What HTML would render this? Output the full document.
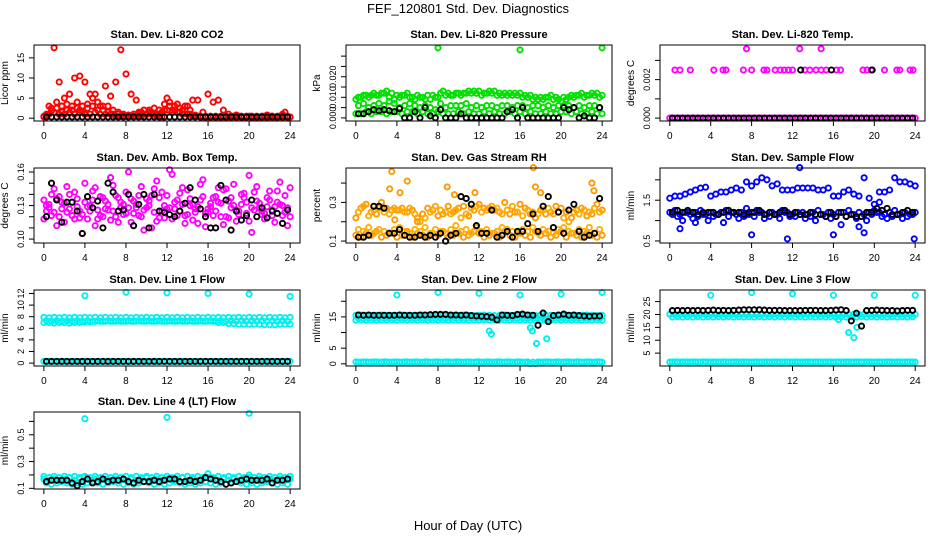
<!DOCTYPE html>
<html><head><meta charset="utf-8"><style>
html,body{margin:0;padding:0;background:#fff;}
svg{display:block;font-family:"Liberation Sans",sans-serif;}
</style></head><body>
<svg id="chart" width="936" height="540" viewBox="0 0 936 540" xmlns="http://www.w3.org/2000/svg">
<rect width="936" height="540" fill="#fff"/>
<text x="468" y="13" font-size="13" text-anchor="middle">FEF_120801  Std. Dev. Diagnostics</text>
<text x="468" y="530" font-size="13" text-anchor="middle">Hour of Day (UTC)</text>
</svg>
<script>
const hoursA=[0,0.5,1,1.5,2,2.5,3,3.5,4,4.5,5,5.5,6,6.5,7,7.5,8,8.5,9,9.5,10,10.5,11,11.5,12,12.5,13,13.5,14,14.5,15,15.5,16,16.5,17,17.5,18,18.5,19,19.5,20,20.5,21,21.5,22,22.5,23,23.5,24];
const hoursB=[0.25,0.75,1.25,1.75,2.25,2.75,3.25,3.75,4.25,4.75,5.25,5.75,6.25,6.75,7.25,7.75,8.25,8.75,9.25,9.75,10.25,10.75,11.25,11.75,12.25,12.75,13.25,13.75,14.25,14.75,15.25,15.75,16.25,16.75,17.25,17.75,18.25,18.75,19.25,19.75,20.25,20.75,21.25,21.75,22.25,22.75,23.25,23.75];
const outlierHours=[4,8,12,16,20,24];

// P1 CO2
const co2Red1=[0.3,3,17.5,9,5,6,10,10.5,9,6,6,3,8,5.5,9,17,11,6,4.5,1.5,1,1.5,0.5,0.3,5,2,3.5,2,3,4.5,4.5,1.5,6,4,4.5,2,1,0.5,0.5,0.3,0.5,0.3,0.3,0.5,0.5,0.3,0.5,1.5,0.3];
const co2Red2=[1,2.5,4,3,2,3,2.5,3,3.5,5,2,3,1.5,2,1,0.8,0.5,0.5,1,2,1.5,2.5,1,2,3,2,2.5,2,1,0.5,0.3,0.3,0.3,0.3,0.3,0.3,0.3,0.3,0.3,0.3,0.3,0.3,0.3,0.3,0.5,0.3,0.8,0.3];
const co2Red3=[0.5,1,1.5,1,1,1.5,1,2,1,1,1.5,1,1,1,0.5,0.5,0.5,0.5,0.5,0.5,1,1,1,1.5,2,1.5,1.5,1,1,0.5,0.5,0.3,0.3,0.3,0.3,0.3,0.3,0.3,0.3,0.3,0.3,0.3,0.3,0.3,0.3,0.3,0.3,0.3,0.3];
const co2Red4=[0.8,1.8,2.5,1.5,3.5,2,4,1.5,2.5,3,4,2,3,1,1.5,1,0.8,1,1.5,1,2,1,2,3.5,4,3,1.5,3,2,0.8,0.5,0.5,0.5,0.5,0.5,0.5,0.5,0.8,0.5,0.5,0.5,0.5,0.5,0.8,0.5,0.5,1,0.5];
const co2Black=[0.3,0.3,0.3,0.3,0.3,0.3,0.3,0.3,0.3,0.3,0.3,0.3,0.3,0.3,0.3,0.3,0.3,0.3,0.3,0.3,0.3,0.3,0.3,0.3,0.3,0.3,0.3,0.3,0.3,0.3,0.3,0.3,0.3,0.3,0.3,0.3,0.3,0.3,0.3,0.3,0.3,0.3,0.3,0.3,0.3,0.3,0.3,0.3];
// P2 Pressure
const presGreen1=[.009,.010,.011,.011,.011,.012,.013,.012,.011,.011,.012,.010,.011,.010,.011,.011,.010,.013,.012,.011,.012,.012,.013,.013,.013,.012,.013,.013,.012,.012,.012,.012,.012,.011,.011,.010,.010,.010,.011,.010,.008,.009,.011,.011,.012,.011,.012,.012,.011];
const presGreen2=[.006,.007,.005,.006,.007,.006,.008,.007,.005,.006,.007,.006,.005,.006,.005,.004,.007,.005,.006,.006,.006,.007,.005,.006,.005,.006,.006,.005,.006,.006,.005,.006,.006,.005,.006,.006,.005,.006,.005,.006,.006,.006,.005,.006,.005,.006,.006,.005];
const presGreen3=[.002,.002,.003,.002,.003,.003,.002,.003,.003,.002,.003,.003,.002,.003,.002,.002,.003,.002,.002,.002,.003,.002,.003,.002,.002,.003,.002,.003,.002,.002,.003,.002,.003,.002,.003,.002,.002,.003,.002,.002,.003,.003,.002,.003,.002,.002,.003,.002,.002];
const presGreen4=[.010,.011,.010,.012,.011,.012,.010,.009,.010,.011,.010,.009,.010,.009,.009,.010,.012,.011,.011,.012,.011,.012,.012,.012,.011,.012,.012,.011,.011,.011,.011,.011,.010,.010,.009,.009,.009,.010,.009,.009,.010,.010,.010,.011,.010,.011,.011,.010];
const presOutX=[8,16,24];
const presOutY=[.034,.033,.034];
const presBlack=[.002,.002,.003,.004,.0035,.004,.0035,.003,.0045,.000,.000,.003,.000,.005,.001,.000,.004,.000,.000,.000,.002,.000,.000,.000,.000,.000,.000,.000,.000,.003,.004,.000,.005,.000,.000,.000,.000,.000,.000,.000,.005,.004,.005,.000,.001,.000,.000,.005];
// P3 Temp
const tempUpX=[0.5,1,2,4.3,5.2,5.5,7.2,8,9.2,9.5,10.3,10.8,11.2,11.6,12,13.2,13.7,14.3,14.8,15.3,16.3,16.7,18.9,19.3,19.7,21,22.2,22.5,23.5,23.8];
const tempUpY=[.0025,.0025,.0025,.0025,.0025,.0025,.0025,.0025,.0025,.0025,.0025,.0025,.0025,.0025,.0025,.0025,.0025,.0025,.0025,.0025,.0025,.0025,.0025,.0025,.0025,.0025,.0025,.0025,.0025,.0025];
const tempOutX=[7.5,12.7,14.8];
const tempOutY=[.0036,.0036,.0036];
const tempZeroA=[0,0,0,0,0,0,0,0,0,0,0,0,0,0,0,0,0,0,0,0,0,0,0,0,0,0,0,0,0,0,0,0,0,0,0,0,0,0,0,0,0,0,0,0,0,0,0,0,0];
const tempBlack=[0,0,0,0,0,0,0,0,0,0,0,0,0,0,0,0,0,0,0,0,0,0,0,0,0,0,0,0,0,0,0,0,0,0,0,0,0,0,0,0,0,0,0,0,0,0,0,0];
const tempBlackUpX=[12.8,15.8,19.8];
const tempBlackUpY=[.0025,.0025,.0025];
// P4 Amb box
const ambMag1=[.135,.128,.145,.120,.132,.140,.118,.125,.150,.130,.112,.138,.127,.155,.120,.133,.142,.115,.128,.147,.136,.110,.152,.125,.139,.158,.121,.131,.144,.117,.129,.153,.124,.137,.146,.113,.134,.149,.122,.141,.157,.126,.132,.118,.143,.129,.151,.124,.146];
const ambMag2=[.125,.140,.112,.133,.147,.121,.136,.105,.129,.143,.118,.137,.126,.148,.115,.131,.160,.123,.139,.108,.134,.145,.119,.130,.162,.127,.141,.114,.136,.124,.149,.111,.132,.138,.120,.145,.128,.116,.140,.133,.106,.147,.125,.137,.121,.143,.130,.112];
const ambMag3=[.118,.131,.124,.138,.115,.127,.142,.119,.133,.125,.146,.121,.134,.117,.139,.128,.123,.136,.131,.120,.128,.139,.116,.142,.127,.118,.135,.146,.122,.131,.114,.138,.127,.121,.133,.144,.119,.130,.125,.137,.116,.142,.128,.123,.135,.115,.131,.139,.120];
const ambMag4=[.130,.121,.136,.127,.124,.133,.129,.122,.118,.135,.126,.120,.131,.125,.137,.122,.128,.134,.121,.126,.130,.124,.137,.119,.128,.133,.125,.121,.130,.127,.135,.123,.129,.125,.132,.120,.137,.126,.131,.123,.128,.134,.122,.129,.126,.133,.121,.128];
const ambBlack=[.120,.150,.135,.115,.133,.133,.125,.105,.138,.128,.134,.110,.150,.142,.125,.126,.140,.112,.131,.140,.110,.140,.125,.124,.122,.120,.125,.132,.146,.135,.127,.120,.110,.110,.148,.135,.108,.125,.117,.121,.135,.120,.128,.119,.125,.123,.114,.126];
// P5 RH
const rhOr1=[.13,.12,.14,.13,.15,.12,.13,.14,.12,.13,.15,.12,.14,.13,.12,.14,.13,.15,.12,.13,.14,.12,.13,.15,.14,.12,.13,.14,.12,.15,.13,.12,.14,.13,.12,.15,.13,.14,.12,.13,.15,.12,.14,.13,.12,.14,.13,.12,.13];
const rhOr2=[.16,.15,.17,.14,.16,.15,.14,.16,.17,.15,.14,.16,.15,.17,.14,.16,.15,.14,.16,.18,.15,.16,.14,.17,.15,.16,.14,.15,.17,.16,.15,.14,.16,.15,.17,.14,.16,.15,.14,.16,.17,.15,.14,.16,.15,.17,.14,.16];
const rhOr3=[.22,.27,.29,.25,.24,.30,.27,.26,.26,.27,.25,.26,.22,.24,.27,.26,.23,.24,.28,.25,.27,.28,.23,.26,.29,.27,.27,.26,.25,.30,.24,.25,.29,.27,.24,.22,.26,.24,.25,.28,.27,.25,.22,.26,.27,.23,.24,.29,.26];
const rhOr4=[.25,.28,.23,.26,.27,.25,.24,.27,.26,.25,.27,.24,.20,.22,.25,.28,.26,.25,.24,.26,.22,.24,.27,.28,.25,.26,.28,.27,.24,.26,.28,.25,.23,.26,.25,.24,.26,.27,.24,.25,.22,.20,.25,.24,.26,.25,.27,.25];
const rhOutX=[3.3,3.5,4.3,5,8.9,11.6,17.3,17.5,18,23,23.2,9.6,6,3.8];
const rhOutY=[.37,.46,.35,.41,.38,.35,.48,.38,.35,.40,.36,.34,.20,.21];
const rhBlack=[.12,.12,.13,.28,.28,.27,.14,.14,.16,.13,.12,.12,.13,.12,.13,.12,.14,.10,.13,.14,.33,.32,.29,.18,.14,.14,.26,.12,.13,.15,.12,.15,.15,.19,.24,.15,.28,.33,.17,.25,.14,.26,.29,.15,.12,.13,.14,.32];
// P6 Sample flow
const sfBlue1=[1.55,1.6,1.6,1.65,1.7,1.75,1.8,1.82,1.6,1.65,1.7,1.7,1.75,1.8,1.75,1.95,1.85,1.95,2.05,2.0,1.85,1.9,1.75,1.75,1.75,1.8,1.8,1.8,1.8,1.75,1.75,1.8,1.6,1.6,1.7,1.75,1.65,1.6,2.05,1.55,1.4,1.7,1.7,1.75,2.05,1.95,1.95,1.9,1.85];
const sfBlue2=[1.15,1.1,1.0,1.2,1.05,1.1,1.15,1.0,1.1,1.15,0.95,1.1,1.2,1.05,1.1,1.15,1.1,1.2,1.05,1.1,1.15,1.05,1.2,1.1,1.1,1.15,1.05,1.1,1.0,1.15,1.1,1.05,1.1,0.9,1.1,1.15,1.05,1.1,1.0,1.15,1.2,1.1,1.05,1.1,1.15,1.05,1.1,1.15];
const sfBlue3=[1.2,1.25,1.15,1.2,1.15,1.2,1.25,1.15,1.2,1.15,1.2,1.25,1.2,1.15,1.2,1.15,1.2,1.25,1.2,1.15,1.2,1.15,1.25,1.2,1.15,1.2,1.2,1.15,1.2,1.25,1.15,1.2,1.15,1.2,1.2,1.25,1.15,1.2,1.15,1.2,1.25,1.2,1.15,1.2,1.25,1.15,1.2,1.15,1.2];
const sfOutX=[8,11.5,12.7,16,19,23.9,2.5,18.5,20.5,1,7.5];
const sfOutY=[0.65,0.55,2.3,0.65,0.7,0.55,0.95,0.85,1.45,0.8,1.3];
const sfBlack=[1.2,1.25,1.2,1.25,1.2,1.15,1.2,1.2,1.2,1.15,1.2,1.25,1.2,1.2,1.15,1.2,1.2,1.25,1.15,1.2,1.15,1.2,1.25,1.15,1.2,1.15,1.15,1.2,1.15,1.15,1.1,1.2,1.1,1.2,1.1,1.15,1.1,1.1,1.2,1.2,1.3,1.25,1.3,1.15,1.15,1.2,1.25,1.2];
// P7 Line 1
const l1Cy1=[7.9,7.8,7.9,7.8,7.9,7.8,7.9,7.8,7.9,7.8,7.9,7.8,7.9,7.8,7.9,7.8,7.9,7.8,7.9,7.8,7.9,7.8,7.9,7.8,7.9,7.8,7.9,7.8,7.9,7.8,7.9,7.8,7.9,7.8,7.9,7.8,7.9,7.8,7.9,7.8,7.9,7.8,7.9,7.8,7.9,7.8,7.9,7.8,7.9];
const l1Cy2=[7.3,7.2,7.3,7.2,7.3,7.2,7.3,7.2,7.3,7.2,7.3,7.2,7.3,7.2,7.3,7.2,7.3,7.2,7.3,7.2,7.3,7.2,7.3,7.2,7.3,7.2,7.3,7.2,7.3,7.2,7.3,7.2,7.3,7.2,7.3,7.2,7.3,7.2,7.3,7.2,7.3,7.2,7.3,7.2,7.3,7.2,7.3,7.2];
const l1Cy3=[7.0,7.0,6.9,7.0,7.0,6.9,7.0,7.0,7.1,7.1,7.2,7.2,7.2,7.2,7.2,7.2,7.2,7.2,7.2,7.2,7.2,7.2,7.2,7.2,7.2,7.2,7.2,7.2,7.2,7.2,7.2,7.2,7.2,7.2,7.0,7.0,6.8,6.8,6.7,6.7,6.7,6.7,6.7,6.6,6.6,6.6,6.7,6.7,6.7];
const l1CyLow=[0.3,0.3,0.3,0.3,0.3,0.3,0.3,0.3,0.3,0.3,0.3,0.3,0.3,0.3,0.3,0.3,0.3,0.3,0.3,0.3,0.3,0.3,0.3,0.3,0.3,0.3,0.3,0.3,0.3,0.3,0.3,0.3,0.3,0.3,0.3,0.3,0.3,0.3,0.3,0.3,0.3,0.3,0.3,0.3,0.3,0.3,0.3,0.3,0.3];
const l1OutY=[11.6,12.2,12.1,12.0,11.9,11.5];
const l1Black=[0.3,0.3,0.3,0.3,0.3,0.3,0.3,0.3,0.3,0.3,0.3,0.3,0.3,0.3,0.3,0.3,0.3,0.3,0.3,0.3,0.3,0.3,0.3,0.3,0.3,0.3,0.3,0.3,0.3,0.3,0.3,0.3,0.3,0.3,0.3,0.3,0.3,0.3,0.3,0.3,0.3,0.3,0.3,0.3,0.3,0.3,0.3,0.3];
// P8 Line 2
const l2Cy1=[15.5,15.6,15.5,15.4,15.5,15.6,15.5,15.4,15.5,15.6,15.5,15.4,15.5,15.6,15.5,15.4,15.5,15.6,15.5,15.4,15.5,15.6,15.5,15.4,15.5,15.6,15.5,15.4,15.5,15.6,15.5,15.4,15.5,15.6,15.5,15.4,15.5,15.6,15.5,15.4,15.5,15.6,15.5,15.4,15.5,15.6,15.5,15.4,15.5];
const l2Cy2=[14.6,14.5,14.6,14.5,14.6,14.5,14.6,14.5,14.6,14.5,14.6,14.5,14.6,14.5,14.6,14.5,14.6,14.5,14.6,14.5,14.6,14.5,14.6,14.5,14.6,14.5,14.6,14.5,14.6,14.5,14.6,14.5,14.6,14.5,14.6,14.5,14.6,14.5,14.6,14.5,14.6,14.5,14.6,14.5,14.6,14.5,14.6,14.5];
const l2Cy3=[13.9,14.0,13.9,14.0,13.9,14.0,13.9,14.0,13.9,14.0,13.9,14.0,13.9,14.0,13.9,14.0,13.9,14.0,13.9,14.0,13.9,14.0,13.9,14.0,13.9,14.0,13.9,14.0,13.9,14.0,13.9,14.0,13.9,14.0,13.9,14.0,13.9,14.0,13.9,14.0,13.9,14.0,13.9,14.0,13.9,14.0,13.9,14.0,13.9];
const l2CyLow=[0.6,0.5,0.6,0.5,0.6,0.5,0.6,0.5,0.6,0.5,0.6,0.5,0.6,0.5,0.6,0.5,0.6,0.5,0.6,0.5,0.6,0.5,0.6,0.5,0.6,0.5,0.6,0.5,0.6,0.5,0.6,0.5,0.6,0.5,0.1,0.1,0.5,0.6,0.5,0.6,0.5,0.6,0.5,0.6,0.5,0.6,0.5,0.6,0.5];
const l2CyLowB=[0.5,0.6,0.5,0.6,0.5,0.6,0.5,0.6,0.5,0.6,0.5,0.6,0.5,0.6,0.5,0.6,0.5,0.6,0.5,0.6,0.5,0.6,0.5,0.6,0.5,0.6,0.5,0.6,0.5,0.6,0.5,0.6,0.5,0.6,0.5,0.6,0.5,0.6,0.5,0.6,0.5,0.6,0.5,0.6,0.5,0.6,0.5,0.6];
const l2OutY=[22,22.8,22.5,22,22.3,22.8];
const l2DipX=[13,13.2,17,17.2,17.6,18.6];
const l2DipY=[10.5,9.5,11.5,10.5,6.5,8];
const l2Black=[15.6,15.5,15.6,15.5,15.5,15.5,15.5,15.5,15.6,15.5,15.5,15.5,15.6,15.6,15.7,15.8,15.8,15.8,15.6,15.6,15.5,15.6,15.4,15.3,15.2,15.1,14.9,14.0,15.6,15.5,15.4,15.8,15.9,15.6,15.5,12.3,16.2,13.5,15.4,15.6,15.9,15.5,15.6,15.4,15.3,15.2,15.3,15.3];
// P9 Line 3
const l3Cy1=[20.1,20.0,20.1,20.0,20.1,20.0,20.1,20.0,20.1,20.0,20.1,20.0,20.1,20.0,20.1,20.0,20.1,20.0,20.1,20.0,20.1,20.0,20.1,20.0,20.1,20.0,20.1,20.0,20.1,20.0,20.1,20.0,20.1,20.0,20.1,20.0,20.1,20.0,20.1,20.0,20.1,20.0,20.1,20.0,20.1,20.0,20.1,20.0,20.1];
const l3Cy2=[19.0,19.1,19.0,19.1,19.0,19.1,19.0,19.1,19.0,19.1,19.0,19.1,19.0,19.1,19.0,19.1,19.0,19.1,19.0,19.1,19.0,19.1,19.0,19.1,19.0,19.1,19.0,19.1,19.0,19.1,19.0,19.1,19.0,19.1,19.0,19.1,19.0,19.1,19.0,19.1,19.0,19.1,19.0,19.1,19.0,19.1,19.0,19.1];
const l3CyLow=[1.5,1.6,1.5,1.6,1.5,1.6,1.5,1.6,1.5,1.6,1.5,1.6,1.5,1.6,1.5,1.6,1.5,1.6,1.5,1.6,1.5,1.6,1.5,1.6,1.5,1.6,1.5,1.6,1.5,1.6,1.5,1.6,1.5,1.6,1.5,1.6,1.5,1.6,1.5,1.6,1.5,1.6,1.5,1.6,1.5,1.6,1.5,1.6,1.5];
const l3CyLowB=[1.6,1.5,1.6,1.5,1.6,1.5,1.6,1.5,1.6,1.5,1.6,1.5,1.6,1.5,1.6,1.5,1.6,1.5,1.6,1.5,1.6,1.5,1.6,1.5,1.6,1.5,1.6,1.5,1.6,1.5,1.6,1.5,1.6,1.5,1.6,1.5,1.6,1.5,1.6,1.5,1.6,1.5,1.6,1.5,1.6,1.5,1.6,1.5];
const l3OutY=[27.5,28.5,28,27.5,27.5,27.5];
const l3DipX=[17.5,18,18.3,16.5];
const l3DipY=[13,11,15,18];
const l3Black=[21.5,21.6,21.5,21.6,21.5,21.6,21.5,21.6,21.7,21.5,21.6,21.5,21.6,21.7,21.8,21.8,21.8,21.8,21.7,21.6,21.6,21.6,21.5,21.5,21.5,21.5,21.6,21.6,21.6,21.5,21.5,21.6,21.7,21.8,21.5,17.5,20.5,15.5,21.5,21.6,21.7,21.6,21.5,21.5,21.4,21.5,21.6,21.6];
// P10 Line 4
const l4Cy1=[0.17,0.16,0.17,0.16,0.17,0.18,0.16,0.17,0.18,0.16,0.17,0.16,0.17,0.16,0.17,0.18,0.16,0.17,0.16,0.17,0.18,0.16,0.17,0.16,0.17,0.16,0.17,0.18,0.16,0.17,0.16,0.17,0.18,0.17,0.16,0.17,0.16,0.17,0.16,0.17,0.18,0.16,0.17,0.16,0.17,0.16,0.17,0.16,0.17];
const l4Cy2=[0.14,0.13,0.14,0.15,0.14,0.13,0.14,0.13,0.14,0.15,0.14,0.13,0.14,0.15,0.14,0.13,0.14,0.13,0.14,0.15,0.14,0.13,0.14,0.13,0.14,0.15,0.14,0.13,0.14,0.13,0.14,0.15,0.14,0.13,0.14,0.13,0.14,0.15,0.14,0.13,0.14,0.13,0.14,0.15,0.14,0.13,0.14,0.13];
const l4Cy3=[0.19,0.18,0.19,0.18,0.19,0.18,0.19,0.18,0.19,0.18,0.19,0.18,0.19,0.18,0.19,0.18,0.19,0.18,0.19,0.18,0.19,0.18,0.19,0.18,0.19,0.18,0.19,0.18,0.19,0.18,0.19,0.18,0.21,0.18,0.19,0.18,0.19,0.18,0.19,0.18,0.20,0.18,0.19,0.18,0.19,0.18,0.19,0.18,0.19];
const l4OutX=[4,12,20];
const l4OutY=[0.62,0.63,0.66];
const l4Black=[0.15,0.16,0.16,0.16,0.16,0.14,0.12,0.15,0.17,0.14,0.15,0.17,0.15,0.16,0.16,0.17,0.15,0.14,0.16,0.15,0.15,0.16,0.15,0.16,0.17,0.17,0.15,0.15,0.16,0.15,0.16,0.18,0.17,0.16,0.15,0.13,0.14,0.15,0.16,0.17,0.16,0.16,0.16,0.17,0.14,0.16,0.16,0.17];

const xTicks=[0,4,8,12,16,20,24];
const svg=document.getElementById('chart');
const NS='http://www.w3.org/2000/svg';
const cols=[[34,300],[346,612],[660,925]];
const rows=[[45,121],[168,243],[290,366],[412,489]];
const CY='#00f0f0';
const panels=[
 {name:'co2',title:'Stan. Dev. Li-820 CO2',ylab:'Licor ppm',c:0,r:0,dom:[-0.7,18.2],ticks:[0,5,10,15],labels:['0','5','10','15'],
  series:[[hoursA,co2Red1,'#ff0000'],[hoursB,co2Red2,'#ff0000'],[hoursA,co2Red3,'#ff0000'],[hoursB,co2Red4,'#ff0000'],[hoursB,co2Black,'#000']]},
 {name:'pressure',title:'Stan. Dev. Li-820 Pressure',ylab:'kPa',c:1,r:0,dom:[-0.0015,0.0354],ticks:[0,.005,.01,.015,.02,.025,.03],labels:['0.000','','0.010','','0.020','',''],
  series:[[hoursA,presGreen1,'#00e000'],[hoursB,presGreen2,'#00e000'],[hoursA,presGreen3,'#00e000'],[hoursB,presGreen4,'#00e000'],[presOutX,presOutY,'#00e000'],[hoursB,presBlack,'#000']]},
 {name:'li820-temp',title:'Stan. Dev. Li-820 Temp.',ylab:'degrees C',c:2,r:0,dom:[-0.00015,0.0038],ticks:[0,.001,.002,.003],labels:['0.000','','0.002',''],
  series:[[hoursA,tempZeroA,'#ff00ff'],[tempUpX,tempUpY,'#ff00ff'],[tempOutX,tempOutY,'#ff00ff'],[hoursB,tempBlack,'#000'],[tempBlackUpX,tempBlackUpY,'#000']]},
 {name:'amb-box-temp',title:'Stan. Dev. Amb. Box Temp.',ylab:'degrees C',c:0,r:1,dom:[0.0965,0.1636],ticks:[.10,.11,.12,.13,.14,.15,.16],labels:['0.10','','','0.13','','','0.16'],
  series:[[hoursA,ambMag1,'#ff00ff'],[hoursB,ambMag2,'#ff00ff'],[hoursA,ambMag3,'#ff00ff'],[hoursB,ambMag4,'#ff00ff'],[hoursB,ambBlack,'#000']]},
 {name:'gas-rh',title:'Stan. Dev. Gas Stream RH',ylab:'percent',c:1,r:1,dom:[0.09,0.478],ticks:[.1,.2,.3,.4],labels:['0.1','','0.3',''],
  series:[[hoursA,rhOr1,'#ff9900'],[hoursB,rhOr2,'#ffb000'],[hoursA,rhOr3,'#ff9900'],[hoursB,rhOr4,'#ffaa00'],[rhOutX,rhOutY,'#ff9900'],[hoursB,rhBlack,'#000']]},
 {name:'sample-flow',title:'Stan. Dev. Sample Flow',ylab:'ml/min',c:2,r:1,dom:[0.45,2.29],ticks:[.5,1,1.5,2],labels:['0.5','','1.5',''],
  series:[[hoursA,sfBlue1,'#0000ff'],[hoursB,sfBlue2,'#0000ff'],[hoursA,sfBlue3,'#0000ff'],[sfOutX,sfOutY,'#0000ff'],[hoursB,sfBlack,'#000']]},
 {name:'line1-flow',title:'Stan. Dev. Line 1 Flow',ylab:'ml/min',c:0,r:2,dom:[-0.5,12.6],ticks:[0,2,4,6,8,10,12],labels:['0','2','4','6','8','10','12'],
  series:[[hoursA,l1Cy1,CY],[hoursB,l1Cy2,CY],[hoursA,l1Cy3,CY],[hoursA,l1CyLow,CY],[outlierHours,l1OutY,CY],[hoursB,l1Black,'#000']]},
 {name:'line2-flow',title:'Stan. Dev. Line 2 Flow',ylab:'ml/min',c:1,r:2,dom:[-0.7,23.6],ticks:[0,5,10,15,20],labels:['0','5','','15',''],
  series:[[hoursA,l2Cy1,CY],[hoursB,l2Cy2,CY],[hoursA,l2Cy3,CY],[hoursA,l2CyLow,CY],[hoursB,l2CyLowB,CY],[outlierHours,l2OutY,CY],[l2DipX,l2DipY,CY],[hoursB,l2Black,'#000']]},
 {name:'line3-flow',title:'Stan. Dev. Line 3 Flow',ylab:'ml/min',c:2,r:2,dom:[0,29.5],ticks:[5,10,15,20,25],labels:['5','10','15','20','25'],
  series:[[hoursA,l3Cy1,CY],[hoursB,l3Cy2,CY],[hoursA,l3CyLow,CY],[hoursB,l3CyLowB,CY],[outlierHours,l3OutY,CY],[l3DipX,l3DipY,CY],[hoursB,l3Black,'#000']]},
 {name:'line4-flow',title:'Stan. Dev. Line 4 (LT) Flow',ylab:'ml/min',c:0,r:3,dom:[0.095,0.67],ticks:[.1,.2,.3,.4,.5,.6],labels:['0.1','','0.3','','0.5',''],
  series:[[hoursA,l4Cy1,CY],[hoursB,l4Cy2,CY],[hoursA,l4Cy3,CY],[l4OutX,l4OutY,CY],[hoursB,l4Black,'#000']]}
];
function mk(tag,attrs,parent){const e=document.createElementNS(NS,tag);for(const k in attrs)e.setAttribute(k,attrs[k]);parent.appendChild(e);return e;}
panels.forEach(p=>{
  const [l,r]=cols[p.c],[t,b]=rows[p.r];
  const xs=v=>l+(v+0.96)/25.92*(r-l);
  const ys=v=>b-(v-p.dom[0])/(p.dom[1]-p.dom[0])*(b-t);
  const g=mk('g',{},svg);
  
  
  const title=mk('text',{x:(l+r)/2,y:t-7,'font-size':11,'font-weight':'bold','text-anchor':'middle'},g);
  title.textContent=p.title;
  
  
  const yl=mk('text',{x:0,y:0,'font-size':10,'text-anchor':'middle',transform:`translate(${l-26},${(t+b)/2}) rotate(-90)`},g);
  yl.textContent=p.ylab;
  
  
  const pts=mk('g',{fill:'none','stroke-width':1.9},g);
  
  
  p.series.forEach(s=>{
    const [xa,ya,col]=s;const n=Math.min(xa.length,ya.length);
    for(let i=0;i<n;i++){
      const c=mk('circle',{cx:xs(xa[i]).toFixed(1),cy:ys(ya[i]).toFixed(1),r:2.6,stroke:col},pts);
      
      
    }
  });
  const box=mk('rect',{x:l,y:t,width:r-l,height:b-t,fill:'none',stroke:'#000','stroke-width':1},g);
  
  
  const xa=mk('g',{},g);
  
  
  mk('line',{x1:xs(0),x2:xs(24),y1:b,y2:b,stroke:'#000'},xa);
  xTicks.forEach(v=>{
    mk('line',{x1:xs(v),x2:xs(v),y1:b,y2:b+5,stroke:'#000'},xa);
    const tx=mk('text',{x:xs(v),y:b+18,'font-size':10,'text-anchor':'middle'},xa);
    tx.textContent=v;
  });
  const ya=mk('g',{},g);
  
  
  mk('line',{x1:l,x2:l,y1:ys(p.ticks[0]),y2:ys(p.ticks[p.ticks.length-1]),stroke:'#000'},ya);
  p.ticks.forEach((v,i)=>{
    mk('line',{x1:l-5,x2:l,y1:ys(v),y2:ys(v),stroke:'#000'},ya);
    if(p.labels[i]){
      const tx=mk('text',{x:0,y:0,'font-size':9,'text-anchor':'middle',transform:`translate(${l-10},${ys(v)}) rotate(-90)`},ya);
      tx.textContent=p.labels[i];
    }
  });
});
</script>
</body></html>
